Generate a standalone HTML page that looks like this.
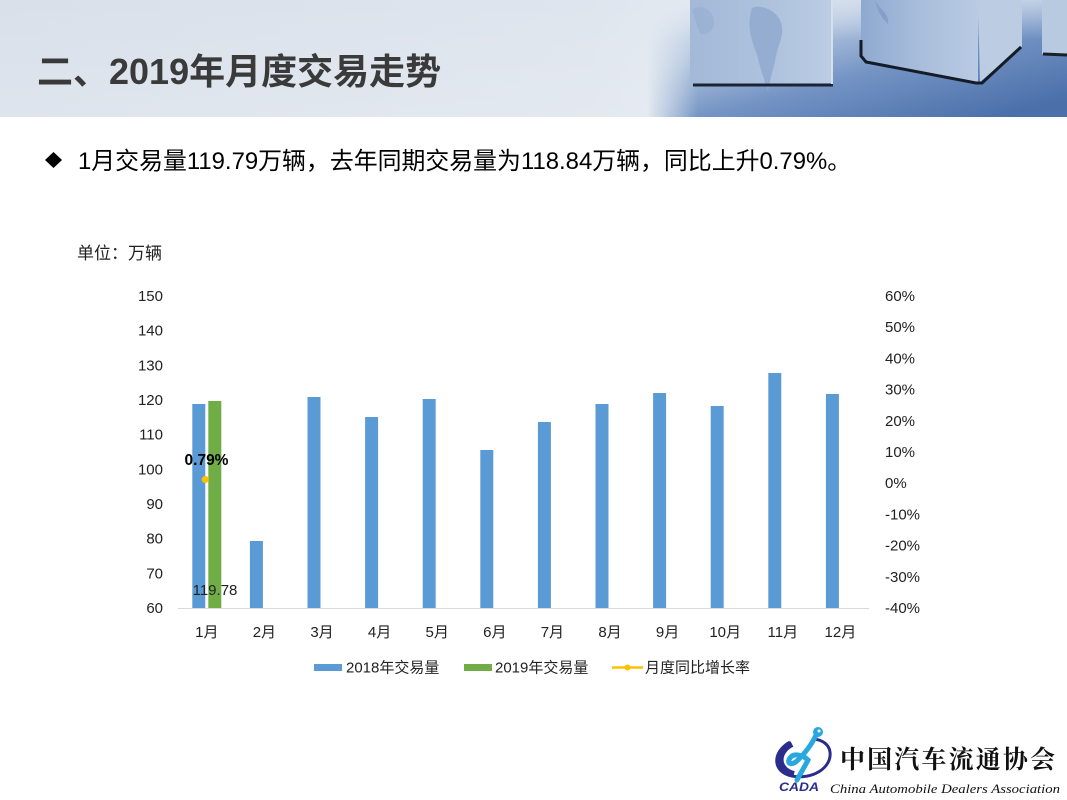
<!DOCTYPE html>
<html><head><meta charset="utf-8"><style>
html,body{margin:0;padding:0;background:#fff;}
svg{display:block;}
text{font-family:"Liberation Sans","Noto Sans CJK SC",sans-serif;}
</style></head><body>
<svg width="1067" height="800" viewBox="0 0 1067 800" xmlns="http://www.w3.org/2000/svg">
<defs>
  <linearGradient id="bg" x1="0" y1="0" x2="1" y2="0">
    <stop offset="0" stop-color="#d9e0ea"/>
    <stop offset="0.55" stop-color="#dfe5ee"/>
    <stop offset="0.64" stop-color="#e3e9f1"/>
    <stop offset="1" stop-color="#e3e9f1"/>
  </linearGradient>
  <linearGradient id="bgv" x1="0" y1="0" x2="0" y2="1">
    <stop offset="0" stop-color="#ffffff" stop-opacity="0"/>
    <stop offset="1" stop-color="#ffffff" stop-opacity="0.15"/>
  </linearGradient>
  <linearGradient id="floor" x1="0" y1="0.1" x2="0.85" y2="1">
    <stop offset="0" stop-color="#e1e8f1"/>
    <stop offset="0.3" stop-color="#b1c4de"/>
    <stop offset="0.6" stop-color="#7393c4"/>
    <stop offset="1" stop-color="#4a6fa9"/>
  </linearGradient>
  <linearGradient id="fade" x1="0" y1="0" x2="1" y2="0">
    <stop offset="0" stop-color="#e1e8f0" stop-opacity="1"/>
    <stop offset="1" stop-color="#e1e8f0" stop-opacity="0"/>
  </linearGradient>
  <linearGradient id="topfade" x1="0" y1="0" x2="0" y2="1">
    <stop offset="0" stop-color="#e2e9f2" stop-opacity="1"/>
    <stop offset="1" stop-color="#e2e9f2" stop-opacity="0"/>
  </linearGradient>
  <linearGradient id="c1" x1="0" y1="0" x2="1" y2="0">
    <stop offset="0" stop-color="#a3b9d8"/>
    <stop offset="0.6" stop-color="#afc3de"/>
    <stop offset="1" stop-color="#bccde4"/>
  </linearGradient>
  <linearGradient id="c2" x1="0" y1="0" x2="1" y2="0">
    <stop offset="0" stop-color="#8ea9d0"/>
    <stop offset="0.5" stop-color="#a8bddb"/>
    <stop offset="1" stop-color="#b9cbe2"/>
  </linearGradient>
</defs>

<!-- header band -->
<rect x="0" y="0" width="1067" height="117" fill="url(#bg)"/>
<rect x="0" y="0" width="1067" height="117" fill="url(#bgv)"/>
<rect x="650" y="0" width="417" height="117" fill="url(#floor)"/>
<rect x="650" y="0" width="417" height="40" fill="url(#topfade)" opacity="0.6"/>
<rect x="648" y="0" width="50" height="117" fill="url(#fade)"/>
<!-- cube 1 -->
<rect x="690" y="0" width="143" height="84" fill="url(#c1)"/>
<path d="M752 8 C760 4 775 10 780 20 C786 34 778 44 776 56 C774 68 770 78 768 92 C764 80 760 66 756 52 C752 40 746 28 752 8 Z" fill="#8fa8cd" opacity="0.8"/>
<path d="M692 10 C700 4 712 8 714 20 C716 30 706 36 700 34 Z" fill="#98afd0" opacity="0.7"/>
<line x1="693" y1="85" x2="833" y2="85" stroke="#1b2433" stroke-width="3"/>
<rect x="831" y="0" width="2" height="84" fill="#d5e0ed"/>
<!-- cube 2 -->
<polygon points="861,0 978,0 978,82 864,61 861,55" fill="url(#c2)"/>
<polygon points="978,0 1022,0 1022,46 980,82" fill="#bccde3"/>
<path d="M875 0 C880 10 890 14 888 24 C884 20 878 14 875 0 Z" fill="#7f9bc6" opacity="0.8"/>
<polyline points="861,40 861,56 866,62 976,83 982,83 1021,47" fill="none" stroke="#141c28" stroke-width="3"/>
<!-- cube 3 -->
<rect x="1042" y="0" width="25" height="54" fill="#b8cae0"/>
<line x1="1043" y1="54" x2="1067" y2="55" stroke="#18202c" stroke-width="3"/>

<!-- title -->
<text x="37" y="84" font-size="36" font-weight="bold" fill="#3a3a3a">二、2019年月度交易走势</text>

<!-- bullet line -->
<polygon points="53.5,152 62,160 53.5,168 45,160" fill="#000"/>
<text x="78" y="169" font-size="23.9" fill="#000">1月交易量119.79万辆，去年同期交易量为118.84万辆，同比上升0.79%。</text>

<!-- unit -->
<text x="77" y="259" font-size="17" fill="#222">单位：万辆</text>

<!-- left ticks -->
<g font-size="15" fill="#222" text-anchor="end">
<text x="163" y="301">150</text>
<text x="163" y="335.7">140</text>
<text x="163" y="370.3">130</text>
<text x="163" y="405">120</text>
<text x="163" y="439.7">110</text>
<text x="163" y="474.3">100</text>
<text x="163" y="509">90</text>
<text x="163" y="543.7">80</text>
<text x="163" y="578.3">70</text>
<text x="163" y="613">60</text>
</g>
<!-- right ticks -->
<g font-size="15" fill="#222">
<text x="885" y="301">60%</text>
<text x="885" y="332.2">50%</text>
<text x="885" y="363.4">40%</text>
<text x="885" y="394.6">30%</text>
<text x="885" y="425.8">20%</text>
<text x="885" y="457">10%</text>
<text x="885" y="488.2">0%</text>
<text x="885" y="519.4">-10%</text>
<text x="885" y="550.6">-20%</text>
<text x="885" y="581.8">-30%</text>
<text x="885" y="613">-40%</text>
</g>

<!-- bars 2018 -->
<g fill="#5b9bd5">
<rect x="192.3" y="404" width="13" height="204"/>
<rect x="249.9" y="541" width="13" height="67"/>
<rect x="307.5" y="397" width="13" height="211"/>
<rect x="365.1" y="417" width="13" height="191"/>
<rect x="422.7" y="399" width="13" height="209"/>
<rect x="480.3" y="450" width="13" height="158"/>
<rect x="537.9" y="422" width="13" height="186"/>
<rect x="595.5" y="404" width="13" height="204"/>
<rect x="653.1" y="393" width="13" height="215"/>
<rect x="710.7" y="406" width="13" height="202"/>
<rect x="768.3" y="373" width="13" height="235"/>
<rect x="825.9" y="394" width="13" height="214"/>
</g>
<!-- bar 2019 -->
<rect x="208.3" y="401" width="13" height="207" fill="#70ad47"/>

<!-- axis -->
<line x1="178" y1="608.5" x2="869" y2="608.5" stroke="#d9d9d9" stroke-width="1"/>

<!-- growth point -->
<circle cx="205.3" cy="479.5" r="3.6" fill="#ffc000"/>
<text x="206.5" y="465" font-size="15.5" font-weight="bold" fill="#000" text-anchor="middle">0.79%</text>
<text x="215" y="595" font-size="15" fill="#222" text-anchor="middle">119.78</text>

<!-- x labels -->
<g font-size="15" fill="#222" text-anchor="middle">
<text x="206.8" y="637">1月</text>
<text x="264.4" y="637">2月</text>
<text x="322" y="637">3月</text>
<text x="379.6" y="637">4月</text>
<text x="437.2" y="637">5月</text>
<text x="494.8" y="637">6月</text>
<text x="552.4" y="637">7月</text>
<text x="610" y="637">8月</text>
<text x="667.6" y="637">9月</text>
<text x="725.2" y="637">10月</text>
<text x="782.8" y="637">11月</text>
<text x="840.4" y="637">12月</text>
</g>

<!-- legend -->
<rect x="314" y="664" width="28" height="7" fill="#5b9bd5"/>
<text x="346" y="672.5" font-size="15" fill="#222">2018年交易量</text>
<rect x="464" y="664" width="28" height="7" fill="#70ad47"/>
<text x="495" y="672.5" font-size="15" fill="#222">2019年交易量</text>
<line x1="612" y1="667.5" x2="643" y2="667.5" stroke="#ffc000" stroke-width="2.5"/>
<circle cx="627.5" cy="667.5" r="3" fill="#ffc000"/>
<text x="645" y="672.5" font-size="15" fill="#222">月度同比增长率</text>

<!-- logo -->
<g>
  <path d="M790 742 C772 752 772 772 792 776 C812 780 832 768 830 752 C829 744 822 740 814 739" fill="none" stroke="#2b2d8c" stroke-width="3"/>
  <path d="M792 744 C776 752 777 770 794 774" fill="none" stroke="#2b2d8c" stroke-width="6"/>
  <path d="M818 730 C814 742 806 752 798 760 C792 766 786 764 790 758 C794 752 804 756 808 760 C804 768 800 774 797 780" fill="none" stroke="#29a8df" stroke-width="5" stroke-linecap="round"/>
  <circle cx="818" cy="732" r="5" fill="#29a8df"/>
  <circle cx="819" cy="731" r="1.5" fill="#ffffff"/>
  <text x="779" y="791" font-size="11.5" font-weight="bold" font-style="italic" fill="#2b2d8c" textLength="40" lengthAdjust="spacingAndGlyphs">CADA</text>
  <text x="840" y="768" font-size="25" font-weight="bold" fill="#111" style="font-family:'Noto Serif CJK SC','Noto Sans CJK SC',serif;" textLength="215" lengthAdjust="spacing">中国汽车流通协会</text>
  <text x="830" y="793" font-size="13" font-style="italic" fill="#111" style="font-family:'Liberation Serif',serif;" textLength="230" lengthAdjust="spacingAndGlyphs">China Automobile Dealers Association</text>
</g>
</svg>
</body></html>
